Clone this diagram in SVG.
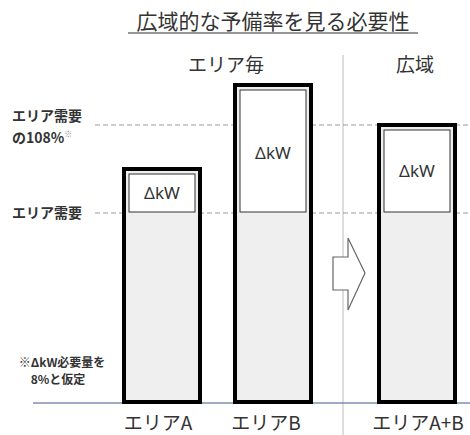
<svg xmlns="http://www.w3.org/2000/svg" width="470" height="435" viewBox="0 0 470 435">
<style>
.t{font-family:"Noto Sans CJK JP","Noto Sans",sans-serif;fill:#333}
.dash{stroke:#999;stroke-width:1.2;stroke-dasharray:5 3;fill:none}
.outer{fill:#efefef;stroke:#000;stroke-width:4}
.inner{fill:#fff;stroke:#333;stroke-width:1}
.dk{font-family:"Noto Sans","DejaVu Sans",sans-serif;font-size:17px;fill:#333;text-anchor:middle}
</style>
<rect width="470" height="435" fill="#fff"/>
<g id="title">
<text class="t" x="273" y="29" font-size="21" text-anchor="middle">広域的な予備率を見る必要性</text>
<line x1="128" y1="33" x2="418" y2="33" stroke="#333" stroke-width="1.2"/>
</g>
<g id="headers">
<text class="t" x="226" y="72" font-size="19" text-anchor="middle">エリア毎</text>
<text class="t" x="415" y="72" font-size="19" text-anchor="middle">広域</text>
</g>
<line id="divider" x1="343" y1="55" x2="343" y2="435" stroke="#bbb" stroke-width="1"/>
<g id="guides">
<line class="dash" x1="95" y1="125" x2="470" y2="125"/>
<line class="dash" x1="95" y1="213" x2="470" y2="213"/>
<line x1="33" y1="403" x2="470" y2="403" stroke="#8090b0" stroke-width="1.5"/>
</g>
<g id="labels" class="t" font-weight="bold">
<text x="12" y="121" font-size="14">エリア需要</text>
<text x="12" y="143" font-size="14">の108%<tspan font-size="8" dy="-6" fill="#888">※</tspan></text>
<text x="12" y="218" font-size="14">エリア需要</text>
<text x="62" y="367" font-size="12" text-anchor="middle">※ΔkW必要量を</text>
<text x="58" y="384" font-size="12" text-anchor="middle">8%と仮定</text>
</g>
<g id="barA">
<rect class="outer" x="124" y="169" width="76" height="233"/>
<rect class="inner" x="129" y="174" width="66" height="38"/>
<text class="dk" x="162" y="199">ΔkW</text>
</g>
<g id="barB">
<rect class="outer" x="235" y="85" width="76" height="317"/>
<rect class="inner" x="240" y="90" width="66" height="122"/>
<text class="dk" x="273" y="159">ΔkW</text>
</g>
<g id="barAB">
<rect class="outer" x="379" y="125" width="76" height="277"/>
<rect class="inner" x="384" y="130" width="66" height="82"/>
<text class="dk" x="417" y="177">ΔkW</text>
</g>
<g id="arrow">
<polygon points="333,257 348,257 348,238 365,273 348,310 348,290 333,290" fill="#fff" stroke="#666" stroke-width="1.2"/>
</g>
<g id="xlabels" class="t" font-size="19" text-anchor="middle">
<text x="158" y="430">エリアA</text>
<text x="266" y="430">エリアB</text>
<text x="418" y="430">エリアA+B</text>
</g>
</svg>
